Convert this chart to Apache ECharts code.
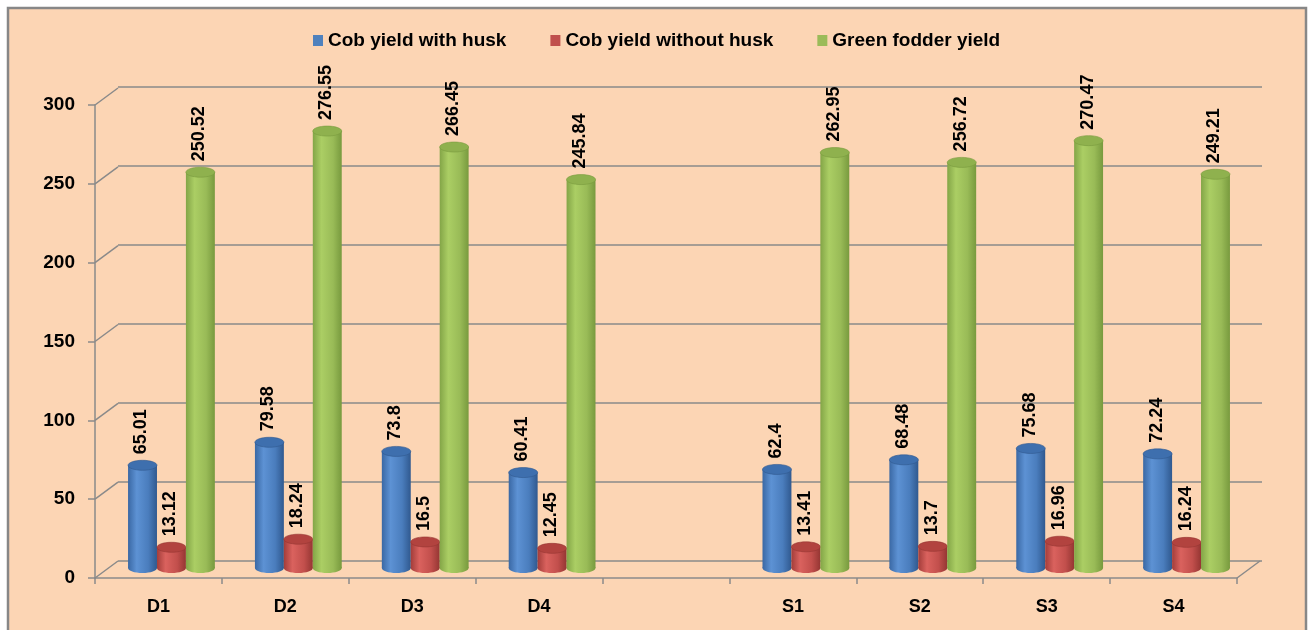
<!DOCTYPE html>
<html>
<head>
<meta charset="utf-8">
<script src="https://cdn.jsdelivr.net/npm/echarts@6/dist/echarts.min.js"></script>
<style>
  html, body { margin: 0; padding: 0; background: #fff; }
  #chart { width: 1308px; height: 630px; }
</style>
</head>
<body>
<div id="chart"></div>
<script>
// data
var categories = ["D1", "D2", "D3", "D4", "", "S1", "S2", "S3", "S4"];
var seriesNames = ["Cob yield with husk", "Cob yield without husk", "Green fodder yield"];
var withHusk = [65.01, 79.58, 73.8, 60.41, null, 62.4, 68.48, 75.68, 72.24];
var withoutHusk = [13.12, 18.24, 16.5, 12.45, null, 13.41, 13.7, 16.96, 16.24];
var fodder = [250.52, 276.55, 266.45, 245.84, null, 262.95, 256.72, 270.47, 249.21];
var yTicks = [0, 50, 100, 150, 200, 250, 300];

var FONT = "'Liberation Sans', Arial, sans-serif";
var GRIDC = "#8a8a8a";
var DEPTH_X = 23, DEPTH_Y = -17;

var palette = [
    {main: "#4F81BD", top: "#3e6fae", stops: ["#3a68a4", "#5d92d4", "#4a7dbd", "#30598f"]},
    {main: "#C0504D", top: "#b2433f", stops: ["#a33d3a", "#da625e", "#c24f4c", "#953633"]},
    {main: "#9BBB59", top: "#8fb14e", stops: ["#83a547", "#abce64", "#99bb57", "#789a3e"]}
];

function toData(arr) {
    var out = [];
    for (var i = 0; i < arr.length; i++) if (arr[i] != null) out.push([i, arr[i]]);
    return out;
}

function cylinder(sIdx) {
    var pal = palette[sIdx];
    return function (params, api) {
        var idx = api.value(0), v = api.value(1);
        var p = api.coord([idx, v]), base = api.coord([idx, 0]);
        var slot = api.size([1, 0])[0];
        var bw = slot * 0.228;
        var cx = p[0] + (sIdx - 1) * bw;
        var rx = bw / 2, ry = 5;
        var grad = new echarts.graphic.LinearGradient(0, 0, 1, 0, [
            {offset: 0, color: pal.stops[0]},
            {offset: 0.3, color: pal.stops[1]},
            {offset: 0.7, color: pal.stops[2]},
            {offset: 1, color: pal.stops[3]}
        ]);
        return {
            type: "group",
            children: [
                {type: "ellipse", shape: {cx: cx, cy: base[1], rx: rx, ry: ry}, style: {fill: grad}},
                {type: "rect", shape: {x: cx - rx, y: p[1], width: bw, height: base[1] - p[1]}, style: {fill: grad}},
                {type: "ellipse", shape: {cx: cx, cy: p[1], rx: rx, ry: ry}, style: {fill: pal.top, stroke: pal.stops[3], lineWidth: 0.6}},
                {
                    type: "text", x: cx - 1, y: p[1] - ry - 6, rotation: Math.PI / 2,
                    style: {text: String(v), font: "bold 18px " + FONT, fill: "#000", align: "left", verticalAlign: "middle"}
                }
            ]
        };
    };
}

// left wall diagonals plus floor corner on the right
function wallLines(params, api) {
    var y = api.coord([0, api.value(0)])[1];
    var cs = params.coordSys;
    var kids = [{
        type: "line", shape: {x1: cs.x, y1: y, x2: cs.x + DEPTH_X, y2: y + DEPTH_Y},
        style: {stroke: GRIDC, lineWidth: 1.5}
    }];
    if (api.value(0) === 0) {
        kids.push({
            type: "line", shape: {x1: cs.x + cs.width, y1: y, x2: cs.x + cs.width + DEPTH_X, y2: y + DEPTH_Y},
            style: {stroke: GRIDC, lineWidth: 1.5}
        });
    }
    return {type: "group", children: kids};
}

var myChart = echarts.init(document.getElementById("chart"));
var option = {
    backgroundColor: "#fff",
    animation: false,
    graphic: [{
        type: "rect", z: -100, silent: true,
        shape: {x: 8, y: 8, width: 1298, height: 640},
        style: {fill: "#FCD5B4", stroke: "#878787", lineWidth: 2.5}
    }],
    legend: {
        top: 26, left: 308,
        itemWidth: 10, itemHeight: 11, itemGap: 44,
        icon: "rect",
        data: seriesNames,
        textStyle: {fontFamily: FONT, fontWeight: "bold", fontSize: 19, color: "#000"}
    },
    grid: [
        {left: 95, top: 105, width: 1142, height: 473},
        {left: 118, top: 87, width: 1144, height: 474},
        {left: 108, top: 94, width: 1142, height: 474}
    ],
    xAxis: [
        {
            type: "category", gridIndex: 0, data: categories,
            axisLine: {lineStyle: {color: GRIDC, width: 1.5}},
            axisTick: {show: true, length: 6, lineStyle: {color: GRIDC, width: 1.5}},
            axisLabel: {margin: 20, color: "#000", fontFamily: FONT, fontWeight: "bold", fontSize: 18}
        },
        {type: "category", gridIndex: 1, data: categories, show: false},
        {type: "category", gridIndex: 2, data: categories, show: false}
    ],
    yAxis: [
        {
            type: "value", gridIndex: 0, min: 0, max: 300, interval: 50,
            axisLine: {show: true, lineStyle: {color: GRIDC, width: 1.5}},
            axisTick: {show: true, length: 7, lineStyle: {color: GRIDC, width: 1.5}},
            splitLine: {show: false},
            axisLabel: {margin: 20, color: "#000", fontFamily: FONT, fontWeight: "bold", fontSize: 19}
        },
        {
            type: "value", gridIndex: 1, min: 0, max: 300, interval: 50,
            axisLine: {show: false}, axisTick: {show: false}, axisLabel: {show: false},
            splitLine: {show: true, lineStyle: {color: GRIDC, width: 1.5}}
        },
        {type: "value", gridIndex: 2, min: 0, max: 300, interval: 50, show: false, splitLine: {show: false}}
    ],
    series: [
        {
            type: "custom", name: "walls", xAxisIndex: 0, yAxisIndex: 0, silent: true,
            data: yTicks.map(function (t) { return [t]; }),
            encode: {y: 0}, renderItem: wallLines
        },
        {type: "custom", name: seriesNames[0], xAxisIndex: 2, yAxisIndex: 2, color: palette[0].main, data: toData(withHusk), renderItem: cylinder(0)},
        {type: "custom", name: seriesNames[1], xAxisIndex: 2, yAxisIndex: 2, color: palette[1].main, data: toData(withoutHusk), renderItem: cylinder(1)},
        {type: "custom", name: seriesNames[2], xAxisIndex: 2, yAxisIndex: 2, color: palette[2].main, data: toData(fodder), renderItem: cylinder(2)}
    ]
};
myChart.setOption(option);
</script>
</body>
</html>
